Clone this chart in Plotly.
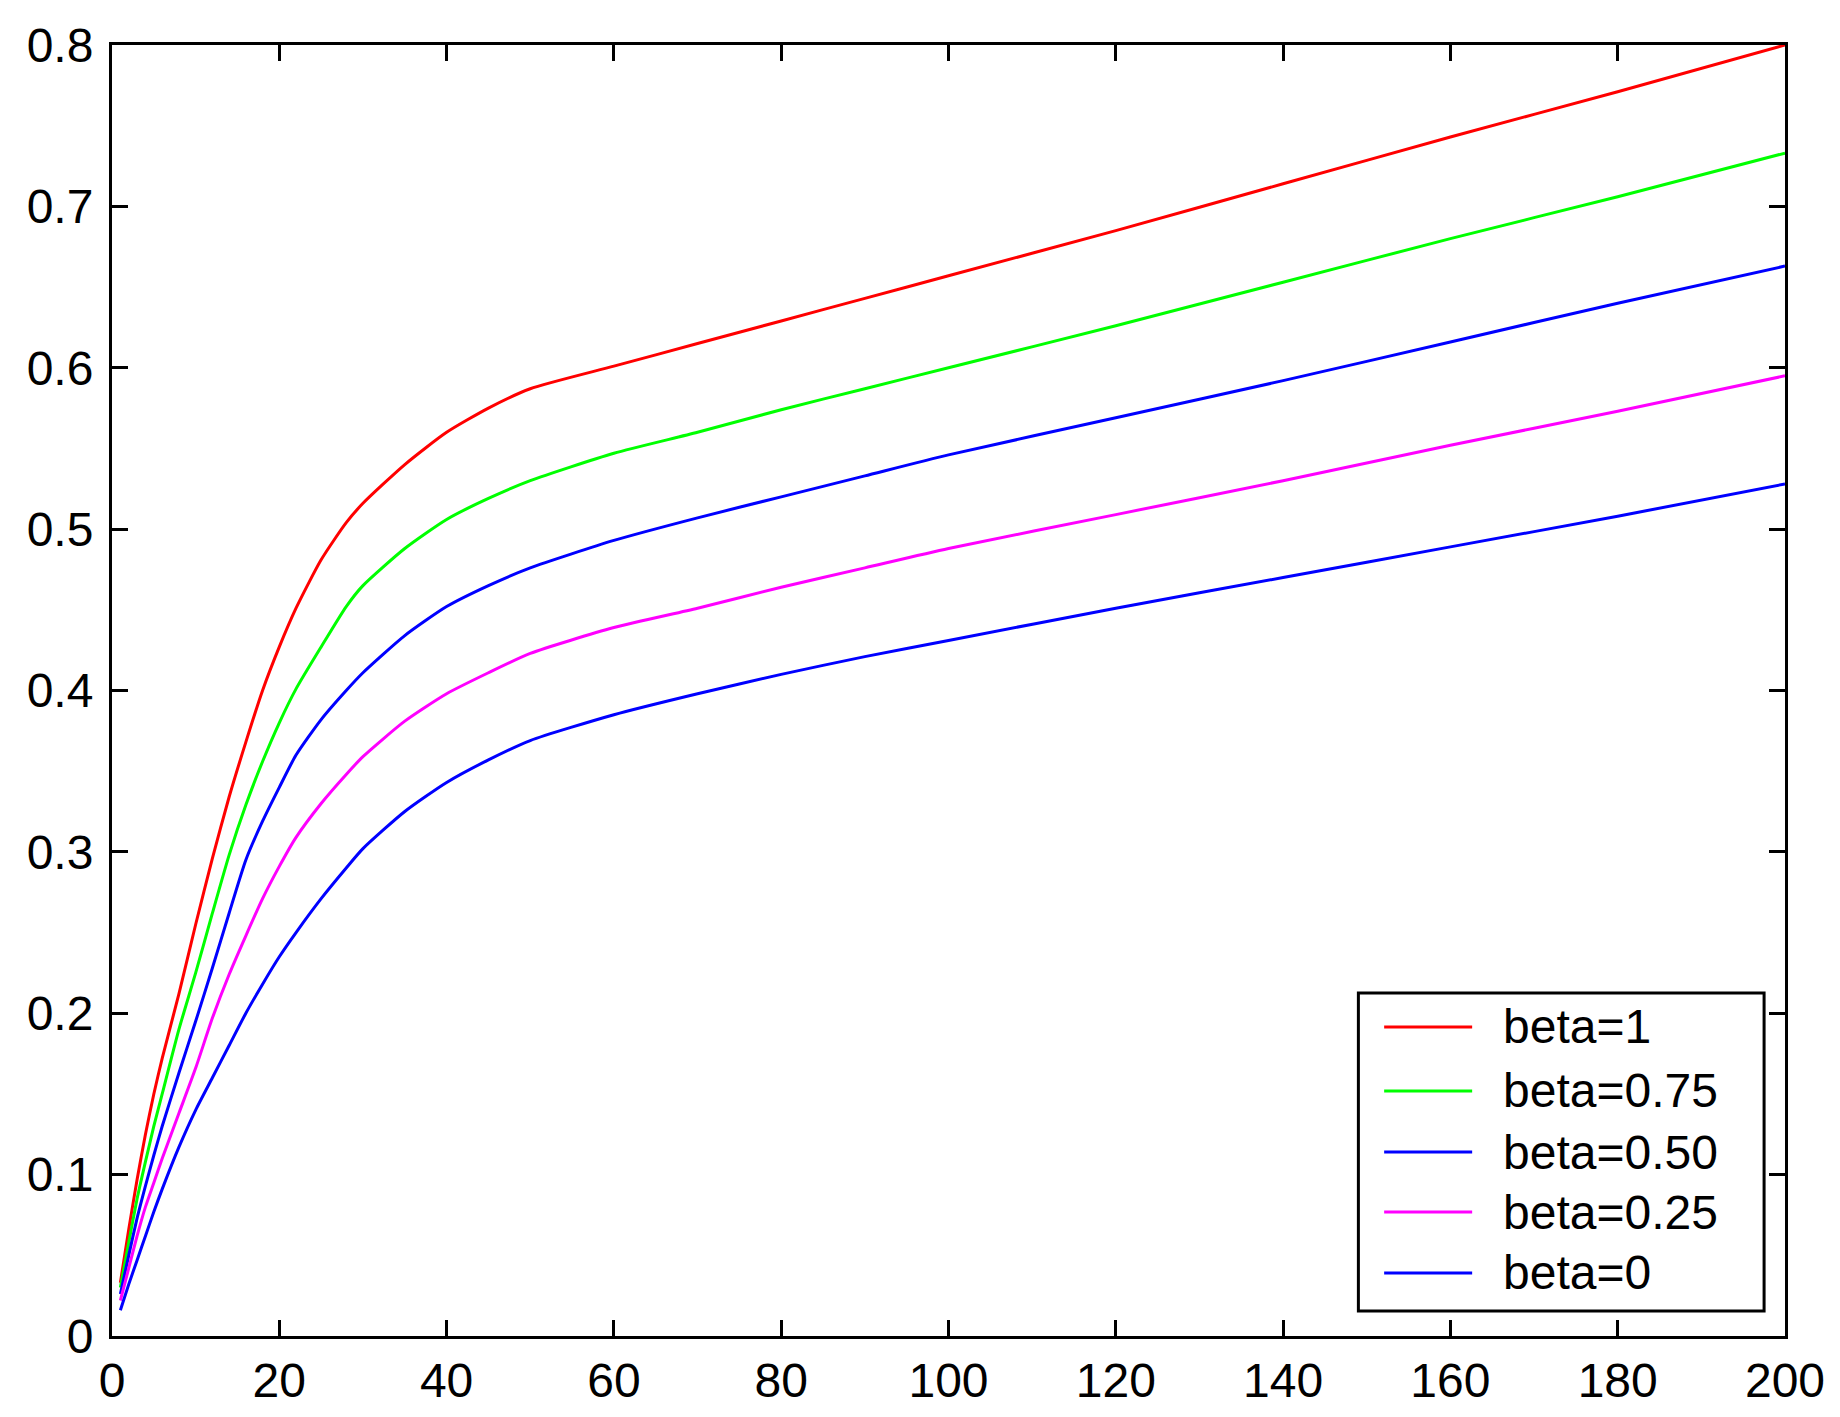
import plotly.graph_objects as go

x_vals = [1, 2, 3, 4, 5, 6, 8, 10, 12, 14, 16, 18, 20, 22, 25, 28, 30, 35, 40, 45,
          50, 60, 70, 80, 90, 100, 120, 140, 160, 180, 200]

beta_1 = [0.033, 0.066, 0.097, 0.125, 0.150, 0.172, 0.212, 0.255, 0.296, 0.334, 0.368,
          0.400, 0.427, 0.451, 0.481, 0.504, 0.516, 0.540, 0.560, 0.575,
          0.587, 0.601, 0.615, 0.629, 0.643, 0.657, 0.685, 0.714, 0.743, 0.771, 0.800]
beta_075 = [0.030, 0.058, 0.085, 0.108, 0.130, 0.150, 0.190, 0.225, 0.262, 0.298, 0.329,
            0.356, 0.380, 0.401, 0.427, 0.452, 0.465, 0.488, 0.506, 0.519,
            0.530, 0.547, 0.560, 0.574, 0.587, 0.600, 0.626, 0.653, 0.680, 0.706, 0.733]
beta_050 = [0.026, 0.050, 0.073, 0.093, 0.112, 0.130, 0.163, 0.195, 0.228, 0.262, 0.295,
            0.319, 0.340, 0.360, 0.382, 0.400, 0.411, 0.434, 0.452, 0.465,
            0.476, 0.493, 0.507, 0.520, 0.533, 0.546, 0.569, 0.592, 0.616, 0.640, 0.663]
beta_025 = [0.022, 0.042, 0.062, 0.080, 0.095, 0.110, 0.138, 0.166, 0.197, 0.224, 0.248,
            0.271, 0.291, 0.309, 0.330, 0.348, 0.359, 0.381, 0.398, 0.411,
            0.423, 0.439, 0.451, 0.464, 0.476, 0.488, 0.509, 0.530, 0.552, 0.573, 0.595]
beta_0 = [0.016, 0.032, 0.047, 0.062, 0.077, 0.091, 0.117, 0.140, 0.160, 0.180, 0.200,
          0.218, 0.235, 0.250, 0.271, 0.290, 0.302, 0.325, 0.343, 0.357,
          0.369, 0.385, 0.398, 0.410, 0.421, 0.431, 0.451, 0.470, 0.489, 0.508, 0.528]

series_names = ["beta=1", "beta=0.75", "beta=0.50", "beta=0.25", "beta=0"]
series_values = [beta_1, beta_075, beta_050, beta_025, beta_0]
series_colors = ["#ff0000", "#00ff00", "#0000ff", "#ff00ff", "#0000ff"]

x_ticks = [0, 20, 40, 60, 80, 100, 120, 140, 160, 180, 200]
y_ticks = [0, 0.1, 0.2, 0.3, 0.4, 0.5, 0.6, 0.7, 0.8]
y_tick_labels = ["0", "0.1", "0.2", "0.3", "0.4", "0.5", "0.6", "0.7", "0.8"]

FONT = "Liberation Sans, Arial, sans-serif"

fig = go.Figure()
for name, vals, col in zip(series_names, series_values, series_colors):
    fig.add_trace(go.Scatter(x=x_vals, y=vals, mode="lines", name=name,
                             line=dict(color=col, width=3, shape="spline", smoothing=0.6),
                             showlegend=False))

axis_common = dict(showgrid=False, zeroline=False, showline=True, linecolor="black",
                   linewidth=3, mirror="ticks", ticks="inside", ticklen=16,
                   tickwidth=3, tickcolor="black", automargin=False,
                   tickfont=dict(family=FONT, size=48, color="black"))

fig.update_xaxes(range=[0, 200], tickvals=x_ticks, ticktext=[str(v) for v in x_ticks],
                 ticklabelstandoff=0, **axis_common)
fig.update_yaxes(range=[0, 0.8], tickvals=y_ticks, ticktext=y_tick_labels,
                 ticklabelstandoff=6, **axis_common)

# legend box drawn manually (MATLAB style)
box_x0, box_x1, box_y0, box_y1 = 0.745, 0.9875, 0.0194, 0.2657
fig.add_shape(type="rect", xref="paper", yref="paper", x0=box_x0, x1=box_x1,
              y0=box_y0, y1=box_y1, line=dict(color="black", width=3),
              fillcolor="white", layer="above")
row_y = [0.2394, 0.1898, 0.1425, 0.0960, 0.0488]
for name, col, yy in zip(series_names, series_colors, row_y):
    fig.add_shape(type="line", xref="paper", yref="paper", x0=0.7604, x1=0.8130,
                  y0=yy, y1=yy, line=dict(color=col, width=3), layer="above")
    fig.add_annotation(xref="paper", yref="paper", x=0.8300, y=yy, text=name,
                       showarrow=False, xanchor="left", yanchor="middle",
                       font=dict(family=FONT, size=48, color="black"))

# page body has an 8px margin; offset plot margins so the plot area lands where intended
fig.update_layout(width=1840, height=1417,
                  margin=dict(l=103.5, r=63, t=37, b=89, pad=0),
                  paper_bgcolor="white", plot_bgcolor="white",
                  font=dict(family=FONT, size=48, color="black"))

fig.write_html("out.html")
